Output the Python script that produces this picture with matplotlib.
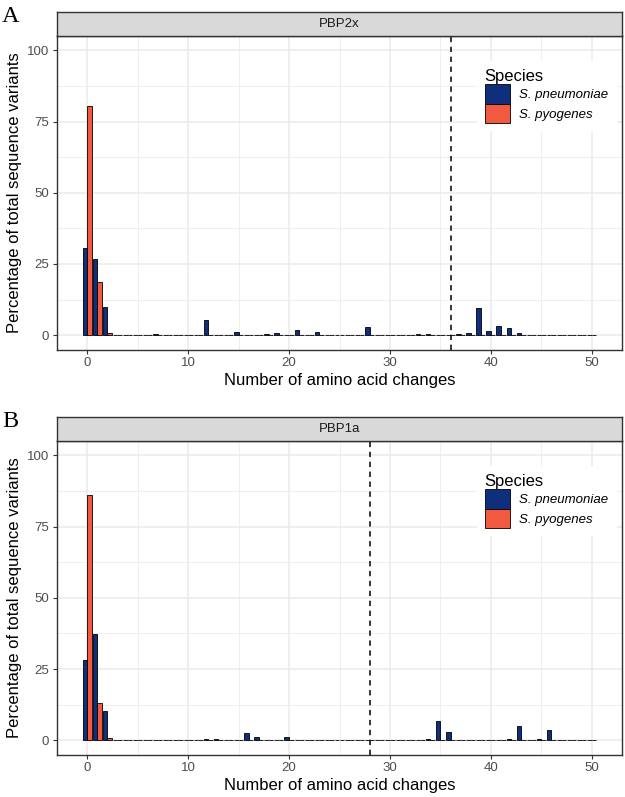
import numpy as np
import matplotlib
matplotlib.use("Agg")
import matplotlib.pyplot as plt
from matplotlib.patches import Patch

plt.rcParams["font.family"] = ["Liberation Sans", "DejaVu Sans"]

# ==============================
# Data (percentage of sequence variants per number of amino acid changes)
# ==============================

changes = np.arange(0, 51)
species = ["S. pneumoniae", "S. pyogenes"]

pbp2x_pneumoniae = [
    30.6, 26.7, 9.8, 0, 0, 0, 0, 0.5, 0, 0,
    0, 0, 5.3, 0, 0, 1.0, 0, 0, 0.3, 0.9,
    0, 1.7, 0, 1.2, 0, 0, 0, 0, 2.9, 0,
    0, 0, 0, 0.4, 0.5, 0, 0, 0.3, 0.8, 9.4,
    1.4, 3.3, 2.6, 0.8, 0, 0, 0, 0, 0, 0,
    0,
]
pbp2x_pyogenes = [80.4, 18.7, 0.8] + [0] * 48

pbp1a_pneumoniae = [
    28.0, 37.2, 10.2, 0, 0, 0, 0, 0, 0, 0,
    0, 0, 0.3, 0.4, 0, 0, 2.6, 1.2, 0, 0,
    1.1, 0, 0, 0, 0, 0, 0, 0.2, 0, 0,
    0, 0, 0.2, 0, 0.5, 6.6, 3.0, 0, 0, 0.2,
    0, 0, 0.6, 5.0, 0, 0.3, 3.5, 0, 0, 0,
    0,
]
pbp1a_pyogenes = [86.2, 13.0, 0.9] + [0] * 48

panel_titles = ["PBP2x", "PBP1a"]
panel_letters = ["A", "B"]
cutoffs = [36, 28]

COLORS = ["#0F2F7D", "#F15A40"]

# ==============================
# Layout helpers (pixel based)
# ==============================

W, H = 625, 797
fig = plt.figure(figsize=(W / 100, H / 100), dpi=100)

PANEL_LEFT, PANEL_RIGHT = 57, 622
PANEL_H = 313.5
STRIP_H = 24


def rect(left, top, width, height):
    return [left / W, 1 - (top + height) / H, width / W, height / H]


def draw_panel(top, title, letter, pneumo, pyo, cutoff):
    ax = fig.add_axes(rect(PANEL_LEFT, top, PANEL_RIGHT - PANEL_LEFT, PANEL_H))
    strip = fig.add_axes(rect(PANEL_LEFT, top - STRIP_H, PANEL_RIGHT - PANEL_LEFT, STRIP_H))

    # strip
    strip.set_facecolor("#D9D9D9")
    strip.set_xticks([])
    strip.set_yticks([])
    for s in strip.spines.values():
        s.set_color("#333333")
        s.set_linewidth(1.0)
    strip.text(0.5, 0.5, title, ha="center", va="center", fontsize=9.5,
               color="#1A1A1A", transform=strip.transAxes)

    # bars
    width = 0.45
    ax.bar(changes - width / 2, pneumo, width=width, color=COLORS[0],
           edgecolor="black", linewidth=0.6, zorder=3)
    ax.bar(changes + width / 2, pyo, width=width, color=COLORS[1],
           edgecolor="black", linewidth=0.6, zorder=3)

    ax.axvline(cutoff, color="black", linestyle=(0, (3.5, 3)), linewidth=1.1, zorder=4)

    ax.set_xlim(-2.99, 52.99)
    ax.set_ylim(-5, 105)
    ax.set_xticks(range(0, 51, 10))
    ax.set_yticks([0, 25, 50, 75, 100])
    ax.set_xticks(range(5, 51, 10), minor=True)
    ax.set_yticks([12.5, 37.5, 62.5, 87.5], minor=True)
    ax.grid(which="major", color="#EBEBEB", linewidth=1.1, zorder=0)
    ax.grid(which="minor", color="#EBEBEB", linewidth=0.55, zorder=0)
    ax.set_axisbelow(True)
    ax.tick_params(which="major", length=3, width=0.8, color="#333333",
                   labelsize=9.5, labelcolor="#4D4D4D", pad=2.5)
    ax.tick_params(which="minor", length=0)
    for s in ax.spines.values():
        s.set_color("#333333")
        s.set_linewidth(1.0)

    handles = [Patch(facecolor=c, edgecolor="black", linewidth=0.6) for c in COLORS]
    leg = ax.legend(handles, species, title="Species", loc="upper left",
                    bbox_to_anchor=(0.731, 0.94), frameon=True, fancybox=False,
                    framealpha=1, edgecolor="none", facecolor="white",
                    handlelength=1.9, handleheight=1.9, labelspacing=0,
                    handletextpad=0.75, borderpad=0.6,
                    prop={"size": 9.5, "style": "italic"},
                    title_fontproperties={"size": 12}, alignment="left")
    leg.set_zorder(5)

    # text labels
    fig.text(15 / W, 1 - (top + PANEL_H / 2) / H, "Percentage of total sequence variants",
             rotation=90, ha="center", va="center", fontsize=12)
    fig.text((PANEL_LEFT + PANEL_RIGHT) / 2 / W, 1 - (top + PANEL_H + 31) / H,
             "Number of amino acid changes", ha="center", va="center", fontsize=12)
    fig.text(2 / W, 1 - (top - 14) / H, letter, ha="left", va="baseline",
             fontsize=17.5, family="Liberation Serif")
    return ax


draw_panel(36, panel_titles[0], panel_letters[0], pbp2x_pneumoniae, pbp2x_pyogenes, cutoffs[0])
draw_panel(441, panel_titles[1], panel_letters[1], pbp1a_pneumoniae, pbp1a_pyogenes, cutoffs[1])

fig.savefig("out.png", dpi=100)
